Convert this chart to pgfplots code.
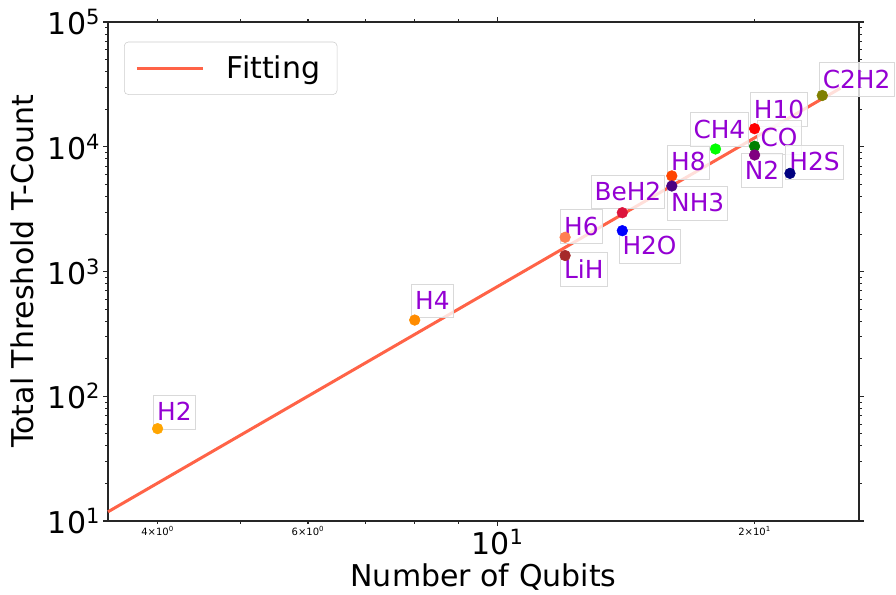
\documentclass[border=0pt]{standalone}
\usepackage{fontspec}
\setmainfont{DejaVu Sans}
\usepackage{pgfplots}
\pgfplotsset{compat=1.18}
\definecolor{tomato}{HTML}{FF6347}
\definecolor{dviolet}{HTML}{9400D3}
\definecolor{cH2}{HTML}{FFA500}
\definecolor{cH4}{HTML}{FF8C00}
\definecolor{cH6}{HTML}{FF7F50}
\definecolor{cLiH}{HTML}{A52A2A}
\definecolor{cBeH2}{HTML}{DC143C}
\definecolor{cH2O}{HTML}{0000FF}
\definecolor{cH8}{HTML}{FF4500}
\definecolor{cNH3}{HTML}{4B0082}
\definecolor{cCH4}{HTML}{00FF00}
\definecolor{cH10}{HTML}{FF0000}
\definecolor{cCO}{HTML}{008000}
\definecolor{cN2}{HTML}{800080}
\definecolor{cH2S}{HTML}{000080}
\definecolor{cC2H2}{HTML}{808000}
\tikzset{lab/.style={anchor=base west, font=\fontsize{18.6}{22}\selectfont, text=dviolet,
  fill=white, fill opacity=0.8, text opacity=1, draw=black!15, line width=0.6pt,
  text height=17.2pt, text depth=4.4pt, inner xsep=2.7pt, inner ysep=1.9pt}}
\pgfplotsset{pt/.style={only marks, mark=*, mark size=4pt, color=#1, mark options={fill=#1, draw=#1}, forget plot}}
\begin{document}
\begin{tikzpicture}
\begin{axis}[
  scale only axis, width=563.25pt, height=374.25pt,
  xmode=log, ymode=log,
  xmin=3.5, xmax=26.5, ymin=10, ymax=100000,
  clip=false,
  axis line style={line width=0.83pt, black!85},
  tick align=outside,
  major tick length=3.7pt, minor tick length=2.1pt,
  every tick/.append style={black!85, line width=0.83pt},
  every minor tick/.append style={line width=0.6pt},
  xtick={10}, xticklabels={10\textsuperscript{1}},
  minor xtick={4,5,6,7,8,9,20},
  extra x ticks={4,6,20},
  extra x tick labels={4×10\textsuperscript{0},6×10\textsuperscript{0},2×10\textsuperscript{1}},
  extra x tick style={major tick length=2.1pt, tick label style={font=\fontsize{7.5}{9}\selectfont}},
  ytick={10,100,1000,10000,100000},
  yticklabels={10\textsuperscript{1},10\textsuperscript{2},10\textsuperscript{3},10\textsuperscript{4},10\textsuperscript{5}},
  minor ytick={20,30,40,50,60,70,80,90,200,300,400,500,600,700,800,900,2000,3000,4000,5000,6000,7000,8000,9000,20000,30000,40000,50000,60000,70000,80000,90000},
  tick label style={font=\fontsize{22.5}{27}\selectfont},
  yticklabel style={inner xsep=2pt},
  xticklabel style={inner ysep=2pt},
  xlabel={Number of Qubits}, ylabel={Total Threshold T-Count},
  label style={font=\fontsize{22.5}{27}\selectfont},
  xlabel style={at={(axis description cs:0.5,-0.1317)}, anchor=base},
  ylabel style={at={(axis description cs:-0.0994,0.5)}, anchor=base},
  legend style={at={(axis description cs:0,1)}, anchor=north west, xshift=12pt, yshift=-14.8pt,
    draw=black!20, fill=white, fill opacity=0.8, text opacity=1, rounded corners=3pt,
    inner xsep=8.25pt, inner ysep=10.4pt, font=\fontsize{22.5}{27}\selectfont,
    nodes={inner sep=0pt}, column sep=17pt, cells={anchor=west}},
  legend image code/.code={\draw[#1] (0pt,0pt) -- (49.5pt,0pt);},
]
\addplot[tomato, line width=2.25pt] coordinates {(3.5,11.85) (25.2,29440)};
\addlegendentry{Fitting\hspace*{4.35pt}}
\addplot[pt=cH2] coordinates {(4,55.0)};
\addplot[pt=cH4] coordinates {(8,408)};
\addplot[pt=cH6] coordinates {(12,1880)};
\addplot[pt=cLiH] coordinates {(12,1343)};
\addplot[pt=cBeH2] coordinates {(14,2960)};
\addplot[pt=cH2O] coordinates {(14,2124)};
\addplot[pt=cH8] coordinates {(16,5840)};
\addplot[pt=cNH3] coordinates {(16,4845)};
\addplot[pt=cCH4] coordinates {(18,9590)};
\addplot[pt=cH10] coordinates {(20,13960)};
\addplot[pt=cCO] coordinates {(20,10090)};
\addplot[pt=cN2] coordinates {(20,8590)};
\addplot[pt=cH2S] coordinates {(22,6120)};
\addplot[pt=cC2H2] coordinates {(24,25750)};
\node[lab, xshift=-3.3pt, yshift=6pt] at (axis cs:4,55.0) {H2};
\node[lab, xshift=-2.7pt, yshift=8pt] at (axis cs:8,408) {H4};
\node[lab, xshift=-3.75pt, yshift=1.7pt] at (axis cs:12,1880) {H6};
\node[lab, xshift=-3.75pt, yshift=-17pt] at (axis cs:12,1343) {LiH};
\node[lab, xshift=-23.8pt, yshift=9.2pt] at (axis cs:14,2960) {BeH2};
\node[lab, xshift=-2.8pt, yshift=-18.2pt] at (axis cs:14,2124) {H2O};
\node[lab, xshift=-3.45pt, yshift=3.75pt] at (axis cs:16,5840) {H8};
\node[lab, xshift=-3.45pt, yshift=-19.3pt] at (axis cs:16,4845) {NH3};
\node[lab, xshift=-19.5pt, yshift=8pt] at (axis cs:18,9590) {CH4};
\node[lab, xshift=-3.5pt, yshift=7.8pt] at (axis cs:20,13960) {H10};
\node[lab, xshift=1.5pt, yshift=0pt] at (axis cs:20,10090) {CO};
\node[lab, xshift=-10.3pt, yshift=-18.2pt] at (axis cs:20,8590) {N2};
\node[lab, xshift=-3.45pt, yshift=2pt] at (axis cs:22,6120) {H2S};
\node[lab, xshift=-2.55pt, yshift=5.5pt] at (axis cs:24,25750) {C2H2};
\coordinate (ll) at (rel axis cs:0,0);
\coordinate (ur) at (rel axis cs:1,1);
\end{axis}
\pgfresetboundingbox
\path ([shift={(-81pt,-54.75pt)}]ll) rectangle ([shift={(27.75pt,16.5pt)}]ur);
\end{tikzpicture}
\end{document}
